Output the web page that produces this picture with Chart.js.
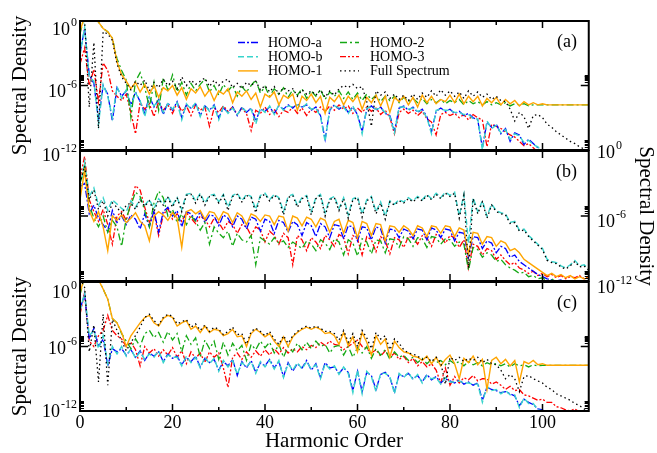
<!DOCTYPE html>
<html>
<head>
<meta charset="utf-8">
<script src="https://cdn.jsdelivr.net/npm/chart.js@4.4.1/dist/chart.umd.min.js"></script>
<style>
  html, body { margin: 0; padding: 0; background: #fff; }
  #wrap { position: relative; width: 657px; height: 453px; }
  #wrap canvas { position: absolute; left: 0; top: 0; }
</style>
</head>
<body>
<div id="wrap">
  <canvas id="panel-a" width="657" height="453"></canvas>
  <canvas id="panel-b" width="657" height="453"></canvas>
  <canvas id="panel-c" width="657" height="453"></canvas>
</div>
<script>
// Harmonic spectra, three panels. Values are log10(spectral density).
const harmonicOrder = Array.from({ length: 111 }, (_, i) => i);
const xMajorTicks = [0, 20, 40, 60, 80, 100];
const xMinorTicks = [10, 30, 50, 70, 90];
const yTickExponents = [0, -6, -12];
const yMinorTicks = [2e-6, 3e-6, 4e-6, 5e-6, 6e-6, 7e-6, 8e-6, 9e-6,
                     2e-12, 3e-12, 4e-12, 5e-12, 6e-12, 7e-12, 8e-12, 9e-12];

// ---- panel (a)
const aHomoA = [-3.0,-0.7,-5.0,-5.8,-9.2,-6.0,-6.8,-9.3,-6.2,-7.0,
  -6.5,-7.8,-6.6,-7.5,-8.6,-7.0,-8.0,-7.3,-8.7,-7.6,
  -8.3,-7.5,-9.0,-7.8,-8.1,-7.7,-8.8,-7.9,-8.3,-7.8,
  -9.0,-8.1,-8.5,-8.0,-8.8,-8.0,-8.5,-8.1,-9.3,-8.2,
  -8.4,-8.0,-8.6,-7.9,-8.2,-7.8,-8.1,-7.7,-8.0,-7.8,
  -8.3,-8.0,-8.8,-11.0,-8.3,-7.8,-8.2,-7.9,-8.5,-8.0,
  -8.7,-10.3,-8.2,-7.9,-8.3,-8.0,-8.6,-8.8,-10.2,-8.1,
  -7.9,-8.3,-8.0,-8.5,-8.2,-8.9,-10.3,-8.4,-8.1,-8.4,
  -8.2,-8.6,-8.4,-8.8,-8.6,-9.0,-9.2,-11.8,-9.4,-9.9,
  -9.6,-10.5,-10.0,-11.2,-10.4,-10.6,-11.5,-11.0,-11.4,-11.8,
  -12.3,-12.6,-12.4,-12.8,-12.6,-13.0,-12.8,-13.2,-13.0,-13.3,-13.2];
const aHomoB = [-3.2,-0.6,-5.2,-5.6,-9.6,-5.9,-7.0,-9.0,-6.1,-7.2,
  -6.4,-8.0,-6.7,-7.4,-8.9,-7.1,-7.9,-7.4,-8.5,-7.7,
  -8.2,-7.6,-9.2,-7.7,-8.2,-7.6,-8.9,-7.8,-8.4,-7.9,
  -9.2,-8.0,-8.6,-8.1,-8.7,-8.1,-8.4,-8.2,-9.6,-8.1,
  -8.5,-7.9,-8.7,-7.8,-8.3,-7.9,-8.0,-7.8,-8.1,-7.7,
  -8.2,-8.1,-8.9,-11.2,-8.2,-7.9,-8.1,-8.0,-8.6,-7.9,
  -8.8,-10.5,-8.1,-8.0,-8.2,-8.1,-8.5,-8.9,-10.4,-8.0,
  -8.0,-8.2,-8.1,-8.4,-8.3,-9.0,-10.5,-8.3,-8.2,-8.3,
  -8.3,-8.5,-8.5,-8.7,-8.7,-9.1,-9.1,-12.0,-9.3,-10.0,
  -9.7,-10.4,-10.1,-11.0,-10.5,-10.7,-11.3,-11.1,-11.5,-11.7,
  -12.2,-12.5,-12.5,-12.7,-12.7,-12.9,-12.9,-13.1,-13.1,-13.2,-13.3];
const aHomo1 = [-1.0,0.5,0.3,0.4,-0.1,-0.7,-1.0,-1.6,-3.8,-5.0,
  -5.6,-6.3,-5.7,-6.6,-5.9,-6.8,-6.0,-7.1,-6.2,-6.5,
  -6.0,-6.9,-6.2,-7.3,-6.3,-6.7,-6.1,-7.0,-6.4,-7.4,
  -6.5,-6.8,-6.3,-7.6,-6.6,-7.0,-6.5,-7.3,-6.7,-8.0,
  -6.8,-7.1,-6.6,-7.8,-6.9,-7.2,-6.8,-8.3,-7.0,-7.4,
  -6.8,-7.6,-7.0,-8.6,-7.1,-7.5,-6.9,-7.8,-7.0,-7.5,
  -6.9,-8.2,-7.1,-7.6,-6.9,-7.9,-7.0,-8.5,-7.1,-7.5,
  -7.0,-7.8,-7.1,-8.0,-6.9,-7.6,-7.0,-7.7,-7.3,-7.5,
  -6.9,-7.6,-6.8,-7.7,-7.0,-7.5,-7.0,-7.9,-7.2,-7.6,
  -7.1,-7.8,-7.3,-7.7,-7.4,-7.9,-7.5,-7.8,-7.6,-7.8,
  -7.7,-7.8,-7.8,-7.8,-7.8,-7.8,-7.8,-7.8,-7.8,-7.8,-7.8];
const aHomo2 = [-1.2,0.5,0.2,0.3,-0.1,-0.7,-1.0,-1.6,-3.5,-4.6,
  -5.5,-9.0,-5.6,-4.8,-6.2,-8.0,-5.7,-8.3,-5.3,-6.4,
  -5.0,-6.6,-5.7,-6.9,-5.8,-6.5,-5.9,-5.4,-6.6,-6.0,
  -6.9,-5.9,-6.5,-6.0,-7.0,-6.1,-6.6,-6.0,-5.5,-6.7,
  -6.1,-7.0,-6.3,-6.8,-6.2,-7.1,-6.4,-6.9,-6.3,-7.2,
  -6.5,-7.0,-6.4,-7.3,-6.6,-7.0,-6.5,-7.2,-6.6,-7.3,
  -6.7,-7.4,-6.8,-7.3,-6.9,-7.5,-7.0,-7.4,-7.0,-7.6,
  -7.1,-7.5,-7.2,-7.6,-7.2,-7.7,-7.3,-7.6,-7.3,-7.7,
  -7.4,-7.6,-7.3,-7.8,-7.4,-7.7,-7.5,-7.8,-7.5,-7.8,
  -7.6,-7.8,-7.6,-7.9,-7.7,-7.8,-7.7,-7.9,-7.8,-7.8,
  -7.8,-7.8,-7.8,-7.8,-7.8,-7.8,-7.8,-7.8,-7.8,-7.8,-7.8];
const aHomo3 = [-4.0,-2.5,-6.0,-4.5,-7.5,-3.9,-4.6,-6.5,-7.0,-7.4,
  -6.8,-8.5,-10.5,-7.6,-8.2,-7.7,-8.9,-7.5,-8.3,-7.8,
  -8.6,-7.6,-8.4,-7.9,-8.8,-7.8,-8.3,-8.0,-9.8,-8.1,
  -8.5,-7.9,-8.4,-8.0,-8.7,-8.1,-8.6,-10.2,-8.3,-8.6,
  -8.0,-8.7,-8.2,-8.9,-8.3,-8.5,-8.0,-8.6,-8.1,-8.8,
  -8.2,-8.5,-8.0,-8.4,-7.9,-8.3,-7.8,-8.2,-7.9,-8.6,
  -8.1,-8.5,-8.0,-8.4,-8.1,-8.7,-8.3,-9.0,-10.5,-8.5,
  -8.2,-8.6,-8.3,-8.8,-8.4,-9.1,-9.4,-10.6,-8.7,-8.5,
  -8.8,-8.6,-9.0,-8.7,-9.2,-8.7,-9.0,-9.2,-11.7,-9.6,
  -9.8,-10.0,-10.3,-10.6,-10.8,-11.2,-11.6,-11.4,-11.8,-12.2,
  -12.5,-12.7,-12.6,-12.9,-12.8,-13.0,-13.1,-13.0,-13.2,-13.3,-13.3];
const aFull = [0.3,0.0,-8.0,-2.0,-10.0,-1.0,-1.2,-1.8,-4.0,-5.2,
  -5.8,-6.4,-5.6,-6.0,-5.5,-6.5,-5.7,-6.2,-5.4,-6.0,
  -5.6,-6.3,-5.2,-6.0,-5.5,-5.9,-5.6,-5.3,-6.1,-5.5,
  -6.0,-5.6,-5.4,-6.2,-5.8,-6.3,-5.7,-6.0,-5.6,-6.4,
  -6.0,-6.6,-6.1,-6.8,-6.2,-6.5,-6.3,-7.0,-6.4,-6.8,
  -6.5,-6.9,-6.4,-7.1,-6.5,-6.9,-6.3,-6.0,-6.2,-5.9,
  -6.3,-6.1,-7.5,-9.8,-6.5,-6.9,-6.6,-7.2,-6.8,-7.3,
  -6.9,-7.4,-6.8,-7.3,-6.7,-7.1,-6.5,-7.0,-6.4,-6.9,
  -6.5,-7.0,-6.6,-7.2,-6.5,-7.0,-6.6,-7.1,-6.8,-7.3,
  -7.0,-7.4,-7.5,-8.2,-9.3,-8.5,-8.9,-10.0,-8.8,-8.7,
  -9.0,-9.6,-9.9,-10.3,-10.6,-10.9,-11.2,-11.4,-11.7,-11.9,-12.1];

// ---- panel (b)
const bHomoA = [-3.3,-3.0,-5.8,-5.0,-6.2,-6.8,-7.4,-5.5,-6.6,-6.0,
  -6.8,-5.9,-6.3,-7.2,-5.8,-7.0,-5.5,-7.5,-5.6,-5.2,
  -6.0,-5.5,-7.0,-5.6,-5.8,-6.4,-5.6,-6.6,-5.9,-6.0,
  -6.9,-5.9,-6.2,-7.0,-6.0,-6.3,-7.2,-6.1,-6.3,-7.4,
  -6.3,-6.5,-7.6,-6.4,-6.6,-7.5,-6.5,-6.8,-7.8,-6.6,
  -6.9,-7.9,-6.7,-7.0,-8.0,-6.8,-6.9,-8.1,-6.9,-7.0,
  -8.3,-7.0,-7.1,-8.2,-7.0,-7.2,-8.5,-7.2,-7.3,-8.0,
  -7.2,-7.4,-8.1,-7.2,-7.3,-8.2,-7.1,-7.3,-8.0,-7.2,
  -7.3,-8.3,-7.5,-7.6,-9.8,-7.9,-8.0,-9.0,-8.3,-8.5,
  -9.4,-8.8,-9.0,-9.8,-9.6,-10.2,-10.5,-10.8,-11.1,-11.4,
  -11.6,-11.8,-11.9,-12.0,-11.9,-12.1,-12.0,-12.1,-12.0,-12.1,-12.1];
const bHomoB = [-3.5,-1.0,-4.2,-3.4,-5.0,-4.3,-5.5,-4.5,-4.9,-5.3,
  -5.6,-4.6,-5.2,-4.4,-5.0,-4.5,-5.3,-4.4,-4.9,-4.2,
  -5.0,-4.3,-5.4,-4.0,-3.9,-4.6,-3.9,-4.8,-4.1,-4.0,
  -4.7,-4.0,-5.2,-4.1,-3.9,-4.6,-4.0,-4.2,-5.4,-4.1,
  -3.9,-4.5,-4.0,-4.3,-5.6,-4.2,-4.0,-5.0,-4.3,-4.1,
  -5.6,-4.3,-4.0,-5.7,-4.4,-4.2,-5.3,-4.3,-5.9,-4.4,
  -4.2,-5.8,-4.5,-4.2,-5.6,-4.7,-6.0,-4.6,-4.9,-4.5,
  -4.7,-4.3,-4.6,-4.2,-4.5,-4.0,-4.4,-3.9,-4.3,-3.8,
  -4.1,-3.8,-6.0,-4.0,-8.5,-4.3,-5.6,-4.6,-6.0,-4.9,
  -5.5,-5.7,-5.8,-6.6,-6.5,-7.3,-7.2,-7.8,-8.2,-8.6,
  -9.0,-10.0,-10.2,-10.3,-10.6,-10.8,-10.5,-10.1,-10.6,-10.5,-10.9];
const bHomo1 = [-4.5,-1.8,-5.5,-6.5,-5.6,-7.0,-9.2,-6.0,-6.4,-5.9,
  -6.6,-6.2,-5.7,-6.5,-6.9,-8.3,-6.0,-5.6,-5.9,-6.4,
  -5.7,-6.2,-8.9,-5.6,-5.4,-5.8,-5.5,-6.3,-5.6,-5.7,
  -6.4,-5.6,-5.8,-6.6,-5.7,-6.0,-6.8,-5.8,-6.0,-6.5,
  -5.9,-6.0,-6.8,-6.0,-6.1,-7.4,-6.0,-6.2,-6.9,-6.1,
  -6.3,-7.0,-6.2,-6.4,-7.5,-6.5,-6.3,-7.6,-6.4,-6.6,
  -8.0,-6.5,-6.7,-7.8,-6.7,-6.8,-8.3,-6.9,-7.0,-7.5,
  -6.9,-7.2,-7.8,-6.9,-7.1,-7.9,-6.9,-7.0,-7.6,-6.9,
  -7.0,-7.9,-7.1,-7.3,-9.5,-7.5,-7.6,-8.6,-7.9,-8.0,
  -8.8,-8.3,-8.5,-9.2,-9.0,-9.4,-10.0,-10.3,-10.6,-10.9,
  -11.2,-11.5,-11.3,-11.6,-11.4,-11.7,-11.5,-11.8,-11.6,-11.8,-11.7];
const bHomo2 = [-3.0,-1.5,-5.0,-6.2,-7.0,-6.0,-7.5,-6.4,-7.0,-8.8,
  -6.2,-5.0,-3.8,-4.2,-5.5,-7.0,-4.8,-3.7,-4.3,-6.0,
  -5.4,-6.6,-5.8,-6.8,-6.0,-6.5,-7.3,-6.6,-8.6,-7.0,
  -7.6,-8.0,-7.4,-8.8,-7.6,-8.2,-8.4,-7.8,-10.5,-8.0,
  -8.3,-8.6,-8.0,-8.5,-8.3,-8.9,-8.4,-8.7,-9.0,-8.3,
  -8.6,-9.2,-8.2,-8.5,-9.1,-8.1,-8.4,-9.6,-8.2,-8.5,
  -9.7,-8.1,-8.4,-9.5,-8.2,-8.3,-9.4,-8.1,-8.2,-8.9,
  -7.9,-8.1,-8.8,-8.0,-8.1,-8.9,-7.9,-8.0,-8.6,-8.1,
  -8.2,-8.8,-8.4,-8.6,-11.0,-8.9,-9.1,-9.8,-9.4,-9.6,
  -10.2,-10.0,-10.5,-10.8,-11.0,-11.3,-11.2,-11.6,-11.5,-11.8,
  -11.7,-12.0,-11.8,-12.1,-12.2,-12.1,-12.3,-12.2,-12.3,-12.2,-12.4];
const bHomo3 = [-2.5,-0.5,-4.5,-5.6,-6.5,-5.4,-6.8,-8.6,-6.0,-5.6,
  -6.4,-4.8,-3.2,-3.6,-5.2,-6.6,-5.7,-7.8,-5.9,-5.3,
  -6.3,-5.8,-6.5,-5.7,-6.2,-6.7,-6.0,-6.3,-7.0,-6.2,
  -6.6,-7.3,-6.5,-6.8,-7.6,-6.8,-7.0,-7.8,-7.0,-7.3,
  -8.4,-7.4,-7.8,-8.6,-7.6,-8.0,-10.5,-7.8,-8.2,-9.2,
  -8.0,-8.4,-9.0,-7.8,-8.2,-8.8,-7.7,-8.0,-9.5,-7.8,
  -8.1,-9.6,-7.9,-8.2,-9.3,-7.9,-8.3,-9.5,-8.0,-8.2,
  -8.9,-7.9,-8.0,-8.6,-7.8,-8.0,-8.8,-7.7,-7.9,-8.5,
  -7.8,-8.0,-8.9,-8.2,-10.8,-8.6,-8.8,-9.6,-9.0,-9.2,
  -10.0,-9.6,-10.1,-10.5,-10.3,-10.8,-11.0,-11.3,-11.1,-11.5,
  -11.3,-11.6,-11.4,-11.7,-11.5,-11.8,-11.6,-11.7,-11.5,-11.8,-11.6];
const bFull = [-3.0,-1.4,-4.5,-3.6,-5.4,-4.6,-6.0,-4.8,-5.2,-5.8,
  -5.0,-4.8,-5.4,-4.5,-5.1,-4.6,-5.6,-4.5,-5.0,-4.3,
  -5.2,-4.3,-5.6,-4.1,-4.0,-4.8,-4.0,-5.0,-4.2,-4.1,
  -4.8,-4.1,-5.5,-4.2,-4.0,-4.7,-4.1,-4.3,-5.7,-4.2,
  -4.0,-4.6,-4.1,-4.4,-5.9,-4.3,-4.1,-5.2,-4.4,-4.2,
  -5.9,-4.4,-4.1,-6.0,-4.5,-4.3,-5.5,-4.4,-6.2,-4.5,
  -4.3,-6.1,-4.6,-4.3,-5.8,-4.8,-6.3,-4.7,-5.0,-4.6,
  -4.8,-4.4,-4.7,-4.3,-4.6,-4.1,-4.5,-4.0,-4.4,-3.9,
  -4.2,-3.9,-6.2,-4.1,-10.8,-4.4,-5.8,-4.7,-6.2,-5.0,
  -5.6,-5.8,-5.9,-6.7,-6.6,-7.4,-7.3,-7.9,-8.3,-8.7,
  -9.1,-10.1,-10.3,-10.4,-10.7,-10.9,-10.6,-10.2,-10.7,-10.6,-11.0];

// ---- panel (c)
const cHomoA = [-2.5,-1.2,-5.3,-4.3,-6.0,-5.3,-7.8,-6.2,-6.5,-6.2,
  -6.8,-6.3,-7.0,-6.4,-7.3,-6.6,-6.9,-6.5,-7.4,-6.7,
  -7.1,-6.9,-7.7,-7.0,-7.4,-6.9,-7.9,-7.1,-7.5,-7.2,
  -8.2,-7.4,-7.8,-7.2,-8.7,-7.4,-8.0,-7.3,-8.4,-7.5,
  -7.8,-7.2,-8.0,-7.4,-8.8,-7.5,-8.3,-7.6,-8.0,-7.3,
  -8.2,-7.6,-8.9,-7.5,-8.0,-7.9,-8.5,-8.0,-8.4,-10.1,
  -8.3,-10.2,-8.4,-8.7,-10.0,-8.6,-8.4,-8.9,-10.2,-8.6,
  -8.8,-8.5,-9.0,-8.7,-9.3,-8.6,-9.1,-8.8,-9.4,-9.0,
  -9.2,-9.4,-9.1,-9.5,-9.3,-9.6,-9.4,-11.0,-9.8,-10.0,
  -10.1,-10.3,-10.2,-10.4,-10.6,-11.5,-10.9,-11.2,-11.4,-11.8,
  -11.9,-12.3,-12.5,-12.6,-12.8,-12.7,-13.0,-12.9,-13.1,-13.2,-13.3];
const cHomoB = [-2.7,-1.0,-5.0,-4.5,-6.2,-5.0,-7.6,-6.0,-6.7,-6.0,
  -6.9,-6.2,-7.1,-6.5,-7.2,-6.7,-7.0,-6.4,-7.5,-6.8,
  -7.0,-7.0,-7.8,-6.9,-7.5,-7.0,-8.0,-7.0,-7.6,-7.1,
  -8.3,-7.3,-7.9,-7.3,-8.6,-7.5,-7.9,-7.4,-8.5,-7.4,
  -7.9,-7.3,-8.1,-7.3,-8.9,-7.6,-8.2,-7.5,-8.1,-7.4,
  -8.1,-7.7,-9.0,-7.6,-8.1,-7.8,-8.6,-7.9,-8.5,-10.3,
  -8.2,-10.4,-8.3,-8.8,-10.2,-8.5,-8.5,-8.8,-10.4,-8.5,
  -8.9,-8.4,-9.1,-8.6,-9.4,-8.7,-9.0,-8.9,-9.5,-8.9,
  -9.3,-9.3,-9.2,-9.4,-9.4,-9.5,-9.5,-11.2,-9.7,-10.1,
  -10.0,-10.4,-10.1,-10.5,-10.5,-11.7,-10.8,-11.3,-11.3,-11.9,
  -12.0,-12.2,-12.6,-12.5,-12.9,-12.8,-13.1,-13.0,-13.2,-13.3,-13.4];
const cHomo1 = [-1.0,0.5,0.3,0.4,0.2,-0.65,-1.6,-3.4,-3.8,-4.7,
  -6.0,-5.0,-4.4,-3.8,-3.3,-3.1,-3.8,-4.1,-3.4,-3.1,
  -3.3,-4.1,-3.8,-3.6,-4.4,-4.1,-4.7,-4.1,-4.7,-4.4,
  -4.5,-5.0,-4.8,-4.4,-5.1,-5.0,-6.0,-4.8,-4.4,-4.7,
  -5.1,-4.8,-5.5,-6.0,-5.1,-6.0,-5.1,-4.7,-4.4,-4.2,
  -4.4,-4.2,-4.4,-4.8,-4.7,-5.0,-5.8,-4.7,-5.9,-5.1,
  -6.5,-4.7,-5.6,-6.8,-5.0,-5.8,-5.3,-7.0,-5.5,-6.1,
  -6.5,-6.6,-6.9,-7.0,-7.3,-6.9,-7.6,-7.0,-7.8,-7.2,
  -6.8,-7.6,-9.0,-7.1,-7.5,-6.9,-7.7,-7.2,-10.0,-7.3,
  -7.0,-7.6,-7.2,-7.8,-7.3,-9.3,-7.4,-7.6,-7.3,-7.7,
  -7.6,-7.75,-7.75,-7.75,-7.75,-7.75,-7.75,-7.75,-7.75,-7.75,-7.75];
const cHomo2 = [-1.2,0.5,0.2,0.3,0.2,-0.65,-1.6,-3.4,-3.8,-4.8,
  -5.5,-6.2,-5.3,-6.0,-4.8,-4.5,-5.2,-4.7,-5.6,-4.6,
  -5.4,-4.8,-6.5,-5.0,-5.8,-5.2,-7.0,-5.4,-6.2,-5.5,
  -7.2,-5.6,-6.8,-5.7,-6.4,-5.9,-7.3,-5.8,-6.3,-5.5,
  -6.1,-5.6,-6.6,-5.8,-7.0,-6.0,-6.5,-5.7,-6.3,-5.6,
  -6.2,-5.5,-6.0,-5.8,-6.6,-6.0,-5.9,-6.8,-6.0,-7.0,
  -6.1,-6.6,-6.0,-7.1,-6.2,-6.8,-6.3,-7.2,-6.5,-7.0,
  -6.8,-7.3,-7.0,-7.5,-7.1,-7.6,-7.2,-7.5,-7.3,-7.7,
  -7.3,-7.6,-7.4,-7.8,-7.4,-7.7,-7.5,-7.8,-7.5,-7.7,
  -7.6,-7.8,-7.6,-7.9,-7.6,-7.8,-7.7,-7.9,-7.7,-7.8,
  -7.75,-7.75,-7.75,-7.75,-7.75,-7.75,-7.75,-7.75,-7.75,-7.75,-7.75];
const cHomo3 = [-3.0,-1.0,-5.5,-6.0,-5.0,-4.5,-3.1,-4.5,-5.0,-5.3,
  -6.0,-5.6,-6.3,-7.8,-6.0,-6.6,-6.2,-6.9,-6.3,-6.8,
  -6.1,-7.0,-6.4,-7.6,-6.5,-7.1,-6.6,-7.5,-6.5,-7.0,
  -6.6,-8.0,-9.8,-7.0,-6.6,-7.2,-6.5,-7.0,-6.4,-6.9,
  -6.3,-6.8,-6.2,-6.7,-6.1,-6.6,-6.2,-6.5,-6.0,-6.3,
  -5.9,-6.1,-5.6,-5.9,-5.5,-5.8,-5.9,-6.3,-6.0,-5.7,
  -5.4,-6.0,-6.2,-6.6,-6.3,-6.9,-6.4,-7.0,-6.6,-7.2,
  -6.9,-7.5,-7.1,-7.8,-7.4,-7.9,-7.6,-8.2,-9.4,-8.0,
  -9.6,-8.8,-9.4,-8.9,-9.1,-8.7,-9.2,-9.0,-9.0,-9.5,
  -9.3,-9.6,-10.0,-9.7,-10.1,-10.0,-10.5,-10.6,-10.8,-11.0,
  -10.9,-11.2,-11.2,-11.6,-11.7,-11.9,-12.0,-11.8,-12.1,-12.2,-12.3];
const cFull = [0.3,-0.5,-6.5,-4.0,-9.3,-3.0,-9.6,-3.5,-4.5,-5.5,
  -6.4,-5.6,-5.0,-4.2,-3.3,-3.0,-3.6,-4.0,-3.3,-3.0,
  -3.2,-3.9,-3.7,-3.5,-4.2,-3.9,-4.5,-4.0,-4.6,-4.2,
  -4.4,-4.9,-4.6,-4.2,-4.9,-4.8,-5.8,-4.6,-4.3,-4.6,
  -5.0,-4.6,-5.3,-5.8,-5.0,-5.7,-5.0,-4.6,-4.3,-4.1,
  -4.3,-4.1,-4.3,-4.6,-4.6,-4.8,-5.4,-4.5,-5.6,-4.8,
  -6.0,-4.5,-5.2,-6.2,-4.7,-5.3,-5.0,-6.3,-5.3,-5.7,
  -6.3,-6.6,-6.7,-6.9,-7.2,-7.0,-7.4,-7.0,-7.5,-9.5,
  -7.0,-7.3,-7.0,-7.4,-7.1,-7.3,-7.0,-7.5,-7.2,-7.6,
  -7.7,-8.2,-9.0,-8.6,-9.0,-10.2,-8.8,-8.7,-9.0,-9.2,
  -9.4,-9.8,-10.0,-10.4,-10.6,-10.8,-11.0,-11.3,-11.5,-11.8,-12.0];

const FONT = "'Liberation Serif', 'Times New Roman', serif";

const styles = {
  full:  { label: 'Full Spectrum', color: '#000000', dash: [1.5, 3], width: 1.3 },
  homo1: { label: 'HOMO-1', color: '#ffa500', dash: [], width: 1.4 },
  homo2: { label: 'HOMO-2', color: '#14a814', dash: [7, 3, 2, 3], width: 1.3 },
  homoB: { label: 'HOMO-b', color: '#38d4cc', dash: [6, 3], width: 1.4 },
  homoA: { label: 'HOMO-a', color: '#0000ff', dash: [7, 2, 2, 2], width: 1.3 },
  homo3: { label: 'HOMO-3', color: '#ff0000', dash: [6, 2, 2, 2, 2, 2], width: 1.3 }
};

const toDensity = exps => exps.map(e => Math.pow(10, e));

function dataset(key, exps) {
  const s = styles[key];
  return {
    label: s.label,
    data: toDensity(exps),
    borderColor: s.color,
    borderDash: s.dash,
    borderWidth: s.width,
    pointRadius: 0,
    tension: 0,
    fill: false
  };
}

// "10" with a raised exponent
function drawPower(ctx, exp, x, baseline, align) {
  ctx.font = '18px ' + FONT;
  const wBase = ctx.measureText('10').width;
  ctx.font = '12px ' + FONT;
  const supText = String(exp);
  const wSup = ctx.measureText(supText).width;
  const left = align === 'right' ? x - wBase - wSup - 1 : x;
  ctx.textAlign = 'left';
  ctx.textBaseline = 'alphabetic';
  ctx.font = '18px ' + FONT;
  ctx.fillText('10', left, baseline);
  ctx.font = '12px ' + FONT;
  ctx.fillText(supText, left + wBase + 1, baseline - 9);
}

const panelDecor = {
  id: 'panelDecor',
  afterDatasetsDraw(chart, args, opts) {
    const { ctx, chartArea: a, scales: { x, y } } = chart;
    ctx.save();
    ctx.strokeStyle = '#000';
    ctx.fillStyle = '#000';
    ctx.setLineDash([]);

    // inward ticks on all four sides
    ctx.lineWidth = 1.5;
    ctx.beginPath();
    xMajorTicks.forEach(v => {
      const px = x.getPixelForValue(v);
      ctx.moveTo(px, a.top); ctx.lineTo(px, a.top + 7);
      ctx.moveTo(px, a.bottom); ctx.lineTo(px, a.bottom - 7);
    });
    xMinorTicks.forEach(v => {
      const px = x.getPixelForValue(v);
      ctx.moveTo(px, a.top); ctx.lineTo(px, a.top + 4);
      ctx.moveTo(px, a.bottom); ctx.lineTo(px, a.bottom - 4);
    });
    yTickExponents.forEach(e => {
      const py = y.getPixelForValue(Math.pow(10, e));
      ctx.moveTo(a.left, py); ctx.lineTo(a.left + 8, py);
      ctx.moveTo(a.right, py); ctx.lineTo(a.right - 8, py);
    });
    ctx.stroke();
    ctx.lineWidth = 1;
    ctx.beginPath();
    yMinorTicks.forEach(v => {
      const py = Math.round(y.getPixelForValue(v)) + 0.5;
      ctx.moveTo(a.left, py); ctx.lineTo(a.left + 4, py);
      ctx.moveTo(a.right, py); ctx.lineTo(a.right - 4, py);
    });
    ctx.stroke();

    // frame
    ctx.lineWidth = 2;
    ctx.strokeRect(a.left, a.top, a.right - a.left, a.bottom - a.top);

    // y tick labels
    yTickExponents.forEach((e, i) => {
      const py = y.getPixelForValue(Math.pow(10, e));
      if (opts.side === 'left') drawPower(ctx, e, 77, py + opts.labelShift[i], 'right');
      else drawPower(ctx, e, 597, py + opts.labelShift[i], 'left');
    });

    // axis title
    ctx.font = '21px ' + FONT;
    ctx.textAlign = 'center';
    ctx.textBaseline = 'alphabetic';
    const midY = (a.top + a.bottom) / 2;
    ctx.save();
    if (opts.side === 'left') {
      ctx.translate(26, midY);
      ctx.rotate(-Math.PI / 2);
    } else {
      ctx.translate(640, midY);
      ctx.rotate(Math.PI / 2);
    }
    ctx.fillText('Spectral Density', 0, 0);
    ctx.restore();

    // panel tag
    ctx.font = '18px ' + FONT;
    ctx.textAlign = 'right';
    ctx.fillText(opts.tag, 577, a.top + 26);

    // x axis labels (bottom panel only)
    if (opts.xLabels) {
      ctx.font = '18px ' + FONT;
      ctx.textAlign = 'center';
      xMajorTicks.forEach(v => ctx.fillText(String(v), x.getPixelForValue(v), 428));
      ctx.font = '21px ' + FONT;
      ctx.fillText('Harmonic Order', 334, 447);
    }

    // legend (top panel only)
    if (opts.legend) {
      const rows = [[styles.homoA, styles.homo2], [styles.homoB, styles.homo3], [styles.homo1, styles.full]];
      const cols = [{ x0: 238, x1: 258, tx: 268 }, { x0: 340, x1: 359, tx: 370 }];
      ctx.font = '14px ' + FONT;
      ctx.textAlign = 'left';
      rows.forEach((row, r) => {
        const ly = 42.5 + r * 14.2;
        row.forEach((s, c) => {
          const col = cols[c];
          ctx.strokeStyle = s.color;
          ctx.lineWidth = s.width;
          ctx.setLineDash(s.dash);
          ctx.beginPath();
          ctx.moveTo(col.x0, ly); ctx.lineTo(col.x1, ly);
          ctx.stroke();
          ctx.fillStyle = '#000';
          ctx.fillText(s.label, col.tx, ly + 4.5);
        });
      });
      ctx.setLineDash([]);
    }
    ctx.restore();
  }
};

function makePanel(id, series, padTop, padBottom, decor) {
  return new Chart(document.getElementById(id), {
    type: 'line',
    data: {
      labels: harmonicOrder,
      // first dataset is drawn on top
      datasets: [
        dataset('full', series.full),
        dataset('homo1', series.homo1),
        dataset('homo2', series.homo2),
        dataset('homoB', series.homoB),
        dataset('homoA', series.homoA),
        dataset('homo3', series.homo3)
      ]
    },
    options: {
      responsive: false,
      animation: false,
      events: [],
      layout: { padding: { left: 80, right: 68.25, top: padTop, bottom: padBottom } },
      plugins: {
        legend: { display: false },
        tooltip: { enabled: false },
        panelDecor: decor
      },
      scales: {
        x: { type: 'linear', min: 0, max: 110, display: false },
        y: { type: 'logarithmic', min: 1e-12, max: 1, display: false }
      }
    },
    plugins: [panelDecor]
  });
}

makePanel('panel-a',
  { full: aFull, homo1: aHomo1, homo2: aHomo2, homoB: aHomoB, homoA: aHomoA, homo3: aHomo3 },
  21, 303, { side: 'left', tag: '(a)', labelShift: [14, 11, 11], legend: true, xLabels: false });

makePanel('panel-b',
  { full: bFull, homo1: bHomo1, homo2: bHomo2, homoB: bHomoB, homoA: bHomoA, homo3: bHomo3 },
  151, 172, { side: 'right', tag: '(b)', labelShift: [7, 11, 12], legend: false, xLabels: false });

makePanel('panel-c',
  { full: cFull, homo1: cHomo1, homo2: cHomo2, homoB: cHomoB, homoA: cHomoA, homo3: cHomo3 },
  282, 42, { side: 'left', tag: '(c)', labelShift: [16, 7, 6], legend: false, xLabels: true });
</script>
</body>
</html>
